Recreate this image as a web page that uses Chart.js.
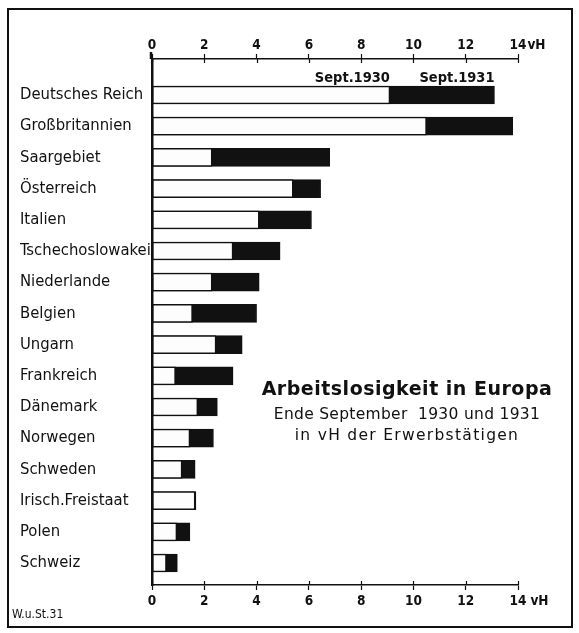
<!DOCTYPE html>
<html>
<head>
<meta charset="utf-8">
<script src="https://cdn.jsdelivr.net/npm/chart.js@4.4.0/dist/chart.umd.min.js"></script>
<style>
  html, body { margin: 0; padding: 0; background: #fff; }
  body { width: 579px; height: 633px; position: relative; overflow: hidden; font-family: "DejaVu Sans Condensed", "DejaVu Sans", sans-serif; color: #111; }
  #rahmen { position: absolute; left: 7px; top: 8px; width: 562px; height: 616px; border: 2px solid #111; }
  #wrap { position: absolute; left: 0; top: 0; width: 579px; height: 633px; }
  #titel { position: absolute; left: 247px; top: 375px; width: 320px; text-align: center; font-family: "DejaVu Sans", sans-serif; white-space: nowrap; }
  #titel .h { font-weight: bold; font-size: 19px; line-height: 26px; letter-spacing: 0.5px; margin-bottom: 3px; }
  #titel .s1 { font-size: 15.5px; line-height: 21px; letter-spacing: 0.3px; }
  #titel .s2 { font-size: 15.5px; line-height: 21px; letter-spacing: 1.3px; }
  #quelle { position: absolute; left: 12px; top: 607px; font-size: 12px; }
</style>
</head>
<body>
<div id="rahmen"></div>
<div id="wrap"><canvas id="grafik" width="579" height="633"></canvas></div>
<div id="titel">
  <div class="h">Arbeitslosigkeit in Europa</div>
  <div class="s1">Ende September&nbsp; 1930 und 1931</div>
  <div class="s2">in vH der Erwerbstätigen</div>
</div>
<div id="quelle">W.u.St.31</div>
<script>
const laender = ['Deutsches Reich', 'Großbritannien', 'Saargebiet', 'Österreich', 'Italien',
  'Tschechoslowakei', 'Niederlande', 'Belgien', 'Ungarn', 'Frankreich', 'Dänemark',
  'Norwegen', 'Schweden', 'Irisch.Freistaat', 'Polen', 'Schweiz'];
const werte1930 = [9.1, 10.5, 2.3, 5.4, 4.1, 3.1, 2.3, 1.55, 2.45, 0.9, 1.75, 1.45, 1.15, 1.65, 0.95, 0.55];
const werte1931 = [13.1, 13.8, 6.8, 6.45, 6.1, 4.9, 4.1, 4.0, 3.45, 3.1, 2.5, 2.35, 1.65, 1.68, 1.45, 0.97];
const legende = ['Sept.1930', 'Sept.1931'];
const xTicks = [0, 2, 4, 6, 8, 10, 12, 14];

const schrift = '"DejaVu Sans Condensed", "DejaVu Sans", sans-serif';

// Beschriftung über dem ersten Balken und "vH" an der Achse
const beschriftung = {
  id: 'beschriftung',
  afterDraw(chart) {
    const { ctx, scales } = chart;
    const x = scales.x, y = scales.y;
    ctx.save();
    ctx.fillStyle = '#111';
    ctx.font = 'bold 14.5px ' + schrift;
    ctx.textAlign = 'right';
    ctx.textBaseline = 'alphabetic';
    const yText = y.getPixelForValue(0) - 13;
    ctx.fillText(legende[0], x.getPixelForValue(werte1930[0]), yText);
    ctx.fillText(legende[1], x.getPixelForValue(werte1931[0]), yText);

    ctx.font = 'bold 13.5px ' + schrift;
    ctx.textAlign = 'left';
    ctx.textBaseline = 'middle';
    const x14 = x.getPixelForValue(14) + ctx.measureText('14').width / 2;
    const lh = 13.5 * 1.2;
    ctx.fillText('vH', x14 + 1, scales.xOben.bottom - 5 - lh / 2);
    ctx.fillText('vH', x14 + 4, x.top + 8 + lh / 2);

    // Teilstriche kreuzen die Achsenlinie
    ctx.strokeStyle = '#111';
    ctx.lineWidth = 1.2;
    ctx.beginPath();
    xTicks.forEach(v => {
      const px = Math.round(x.getPixelForValue(v)) + 0.5;
      ctx.moveTo(px, scales.xOben.bottom);
      ctx.lineTo(px, scales.xOben.bottom + 4);
      ctx.moveTo(px, x.top);
      ctx.lineTo(px, x.top - 4);
    });
    ctx.stroke();

    // senkrechte Achse ragt oben etwas über
    ctx.lineWidth = 2.5;
    ctx.beginPath();
    ctx.moveTo(chart.chartArea.left - 1, scales.xOben.bottom - 7);
    ctx.lineTo(chart.chartArea.left - 1, scales.xOben.bottom);
    ctx.stroke();
    ctx.restore();
  }
};

const tickFont = { family: schrift, size: 13.5, weight: 'bold' };

new Chart(document.getElementById('grafik'), {
  type: 'bar',
  data: {
    datasets: [
      {
        label: legende[0],
        data: werte1930.map((v, i) => ({ x: v, y: i })),
        backgroundColor: '#fdfdfd',
        borderColor: '#111',
        borderWidth: 1.5,
        borderSkipped: false,
        grouped: false,
        barThickness: 18
      },
      {
        label: legende[1],
        data: werte1931.map((v, i) => ({ x: v, y: i })),
        backgroundColor: '#111',
        borderColor: '#111',
        borderWidth: 1,
        borderSkipped: false,
        grouped: false,
        barThickness: 18
      }
    ]
  },
  options: {
    indexAxis: 'y',
    responsive: false,
    animation: false,
    events: [],
    layout: { padding: { left: 20, right: 61, top: 0, bottom: 0 } },
    plugins: { legend: { display: false }, tooltip: { enabled: false } },
    scales: {
      y: {
        type: 'linear',
        reverse: true,
        offset: false,
        min: -1.154,
        max: 15.705,
        afterBuildTicks: s => { s.ticks = laender.map((l, i) => ({ value: i })); },
        afterFit: s => { s.width = 132; },
        grid: { display: false, offset: false },
        border: { display: true, color: '#111', width: 2.5 },
        ticks: {
          autoSkip: false,
          crossAlign: 'far',
          padding: 4,
          color: '#111',
          font: { family: schrift, size: 16.5 },
          callback: v => laender[v]
        }
      },
      x: {
        type: 'linear',
        position: 'bottom',
        min: 0,
        max: 14,
        afterBuildTicks: s => { s.ticks = xTicks.map(v => ({ value: v })); },
        afterFit: s => { s.height = 48; },
        grid: { drawOnChartArea: false, tickLength: 5, color: '#111', tickWidth: 1.2 },
        border: { display: true, color: '#111', width: 1.5 },
        ticks: { padding: 3, color: '#111', font: tickFont, maxRotation: 0 }
      },
      xOben: {
        type: 'linear',
        position: 'top',
        min: 0,
        max: 14,
        afterBuildTicks: s => { s.ticks = xTicks.map(v => ({ value: v })); },
        afterFit: s => { s.height = 59; },
        grid: { drawOnChartArea: false, tickLength: 5, color: '#111', tickWidth: 1.2 },
        border: { display: true, color: '#111', width: 1.5 },
        ticks: { padding: 0, color: '#111', font: tickFont, maxRotation: 0 }
      }
    }
  },
  plugins: [beschriftung]
});
</script>
</body>
</html>
